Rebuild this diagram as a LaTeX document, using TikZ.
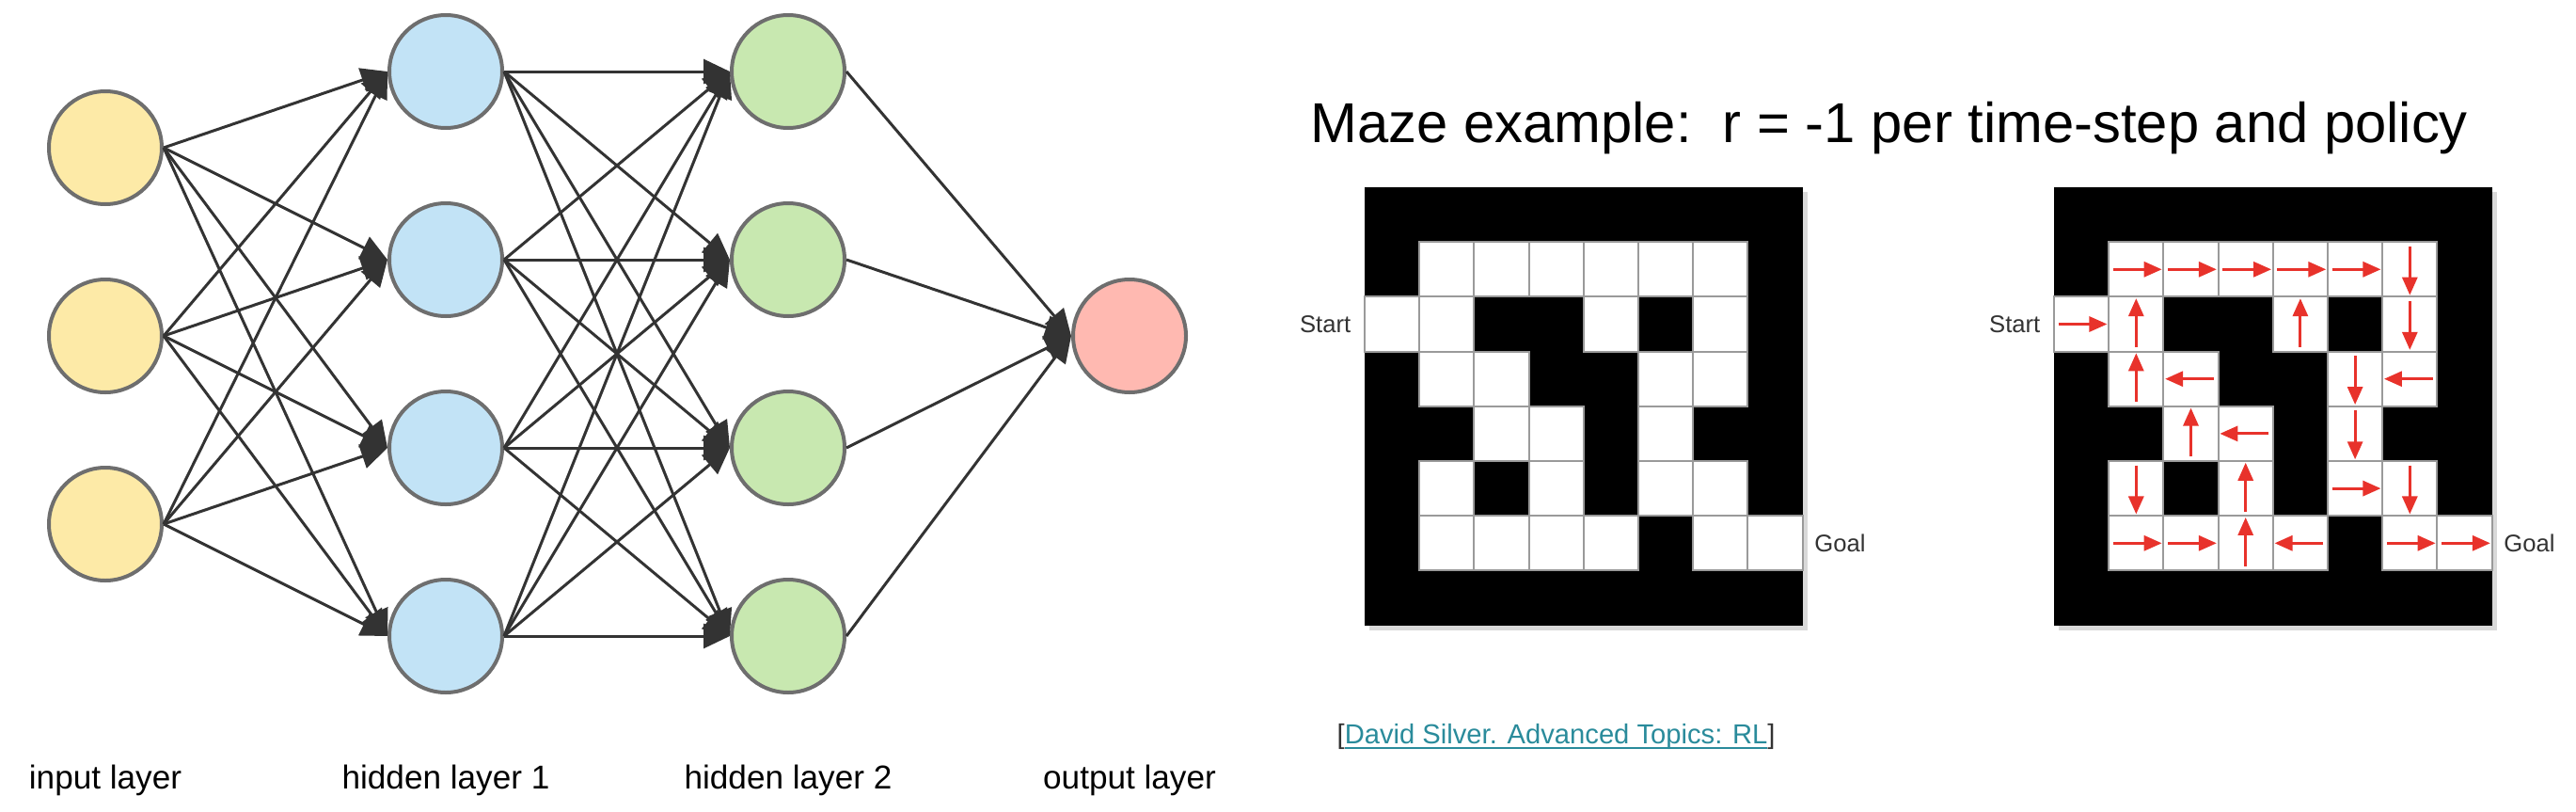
\documentclass[tikz,border=0pt]{standalone}
\usepackage{fontspec}
\setmainfont{Liberation Sans}
\usetikzlibrary{arrows.meta,shadows}

\definecolor{nodeborder}{HTML}{6E6E6E}
\definecolor{edgegray}{HTML}{333333}
\definecolor{inyellow}{HTML}{FDEAA7}
\definecolor{hidblue}{HTML}{C2E3F6}
\definecolor{hidgreen}{HTML}{C8E8B0}
\definecolor{outpink}{HTML}{FFB9B1}
\definecolor{cellgray}{HTML}{9A9A9A}
\definecolor{policyred}{HTML}{E8322B}
\definecolor{citeteal}{HTML}{2A8B9B}
\definecolor{labelgray}{HTML}{333333}

\begin{document}
\begin{tikzpicture}[
    >={Triangle[length=2.8mm, width=2.6mm]},
    neuron/.style={circle, draw=nodeborder, line width=0.4mm, minimum size=1.2cm, inner sep=0pt},
    edge/.style={->, draw=edgegray, line width=0.3mm},
    wall/.style={fill=black, drop shadow={shadow xshift=0.5mm, shadow yshift=-0.5mm, opacity=0.3}},
    cell/.style={fill=white, draw=cellgray, line width=0.2mm},
    move/.style={-{Triangle[length=1.9mm, width=1.6mm]}, draw=policyred, line width=0.3mm},
    layername/.style={anchor=base, font=\fontsize{10}{12}\selectfont},
    mazelabel/.style={font=\fontsize{7.3}{9}\selectfont, text=labelgray, inner sep=0pt}
]
    % 畫布大小
    \useasboundingbox (0,0) rectangle (27.39,8.62);

    % --- 1. 神經網路 (Neural network) ---
    \foreach \k/\y in {1/7.05, 2/5.05, 3/3.05}
        \node[neuron, fill=inyellow] (in\k) at (1.12,\y) {};
    \foreach \k/\y in {1/7.86, 2/5.86, 3/3.86, 4/1.86} {
        \node[neuron, fill=hidblue] (ha\k) at (4.74,\y) {};
        \node[neuron, fill=hidgreen] (hb\k) at (8.38,\y) {};
    }
    \node[neuron, fill=outpink] (out) at (12.01,5.05) {};

    % 連線
    \foreach \i in {1,2,3}
        \foreach \j in {1,...,4}
            \draw[edge] (in\i.east) -- (ha\j.west);
    \foreach \i in {1,...,4}
        \foreach \j in {1,...,4}
            \draw[edge] (ha\i.east) -- (hb\j.west);
    \foreach \i in {1,...,4}
        \draw[edge] (hb\i.east) -- (out.west);

    % 層的名稱
    \node[layername] (lblin) at (1.12,0.24) {input layer};
    \node[layername] (lblha) at (4.74,0.24) {hidden layer 1};
    \node[layername] (lblhb) at (8.38,0.24) {hidden layer 2};
    \node[layername] (lblout) at (12.01,0.24) {output layer};

    % --- 2. 迷宮 (Maze) ---
    \def\cs{0.582}
    \newcommand{\drawMaze}[3]{
        % #1: 左邊 x, #2: 上面 y, #3: 名稱
        \fill[wall] (#1,#2) rectangle ++({8*\cs},{-8*\cs});
        \foreach \c/\r in {1/1,2/1,3/1,4/1,5/1,6/1, 0/2,1/2,4/2,6/2,
                           1/3,2/3,5/3,6/3, 2/4,3/4,5/4, 1/5,3/5,5/5,6/5,
                           1/6,2/6,3/6,4/6,6/6,7/6}
            \draw[cell] ({#1+\c*\cs},{#2-\r*\cs}) rectangle ++(\cs,-\cs);
        \node[mazelabel, anchor=east] (start#3) at ({#1-0.14},{#2-2.5*\cs}) {Start};
        \node[mazelabel, anchor=west] (goal#3) at ({#1+8*\cs+0.12},{#2-6.5*\cs}) {Goal};
    }

    \drawMaze{14.51}{6.63}{A}
    \drawMaze{21.84}{6.63}{B}

    % policy 箭頭 (右邊迷宮)
    \foreach \c/\r/\dx/\dy in {1/1/1/0, 2/1/1/0, 3/1/1/0, 4/1/1/0, 5/1/1/0, 6/1/0/-1,
                               0/2/1/0, 1/2/0/1, 4/2/0/1, 6/2/0/-1,
                               1/3/0/1, 2/3/-1/0, 5/3/0/-1, 6/3/-1/0,
                               2/4/0/1, 3/4/-1/0, 5/4/0/-1,
                               1/5/0/-1, 3/5/0/1, 5/5/1/0, 6/5/0/-1,
                               1/6/1/0, 2/6/1/0, 3/6/0/1, 4/6/-1/0, 6/6/1/0, 7/6/1/0}
        \draw[move] ({21.84+(\c+0.5-0.42*(\dx))*\cs},{6.63-(\r+0.5+0.42*(\dy))*\cs})
                 -- ({21.84+(\c+0.5+0.47*(\dx))*\cs},{6.63-(\r+0.5-0.47*(\dy))*\cs});

    % 標題與出處
    \node[anchor=base west, inner sep=0pt, font=\fontsize{17}{20}\selectfont] (title)
        at (13.93,7.11) {Maze example:\ \ r = -1 per time-step and policy};
    \node[anchor=base west, inner sep=0pt, font=\fontsize{8.3}{10}\selectfont] (cite)
        at (14.21,0.72) {\textcolor{labelgray}{[}\textcolor{citeteal}{\underline{\smash{David Silver. Advanced Topics: RL}}}\textcolor{labelgray}{]}};

\end{tikzpicture}
\end{document}
